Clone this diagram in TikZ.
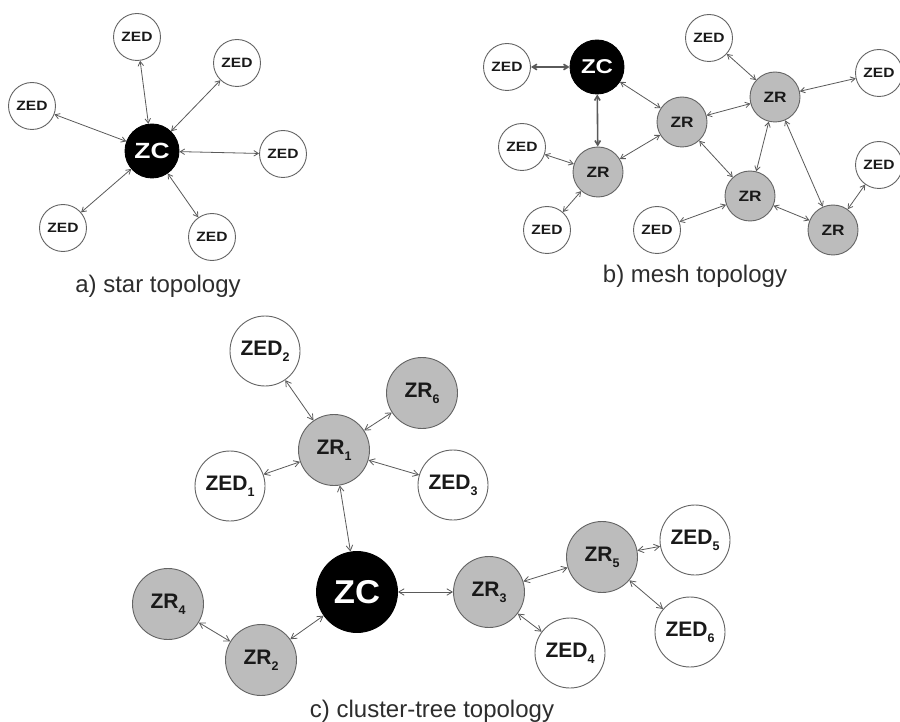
\documentclass[tikz,border=0pt]{standalone}
\usepackage{fontspec}
\usepackage{graphicx}
\setmainfont{Liberation Sans}
\usetikzlibrary{arrows.meta}

\definecolor{edgecol}{RGB}{90,90,90}
\definecolor{rimcol}{RGB}{100,100,100}
\definecolor{zrfill}{RGB}{188,188,188}
\definecolor{txtcol}{RGB}{25,25,25}
\definecolor{capcol}{RGB}{45,45,45}

% horizontally widened label text
\newcommand{\wtxt}[2]{\scalebox{#1}[1]{#2}}
% lowered index digit
\newcommand{\sbs}[1]{\raisebox{-0.3em}{\fontsize{12.5}{12.5}\selectfont #1}}

\tikzset{
  every node/.style={inner sep=0pt},
  nd/.style={circle, draw=rimcol, line width=0.9pt, text=txtcol},
  sed/.style={nd, fill=white, minimum size=47pt, font=\fontsize{13.5}{13.5}\selectfont\bfseries},
  szr/.style={nd, fill=zrfill, minimum size=50pt, font=\fontsize{15}{15}\selectfont\bfseries},
  szc/.style={nd, fill=black, draw=black, text=white, minimum size=54pt},
  bed/.style={nd, fill=white, minimum size=70pt, font=\fontsize{21}{21}\selectfont\bfseries},
  bzr/.style={nd, fill=zrfill, minimum size=71pt, font=\fontsize{21}{21}\selectfont\bfseries},
  bzc/.style={nd, fill=black, draw=black, text=white, minimum size=81pt, font=\fontsize{33}{33}\selectfont\bfseries},
  link/.style={<->, draw=edgecol, line width=0.8pt, >={Straight Barb[length=4.5pt,width=5.5pt]}},
  thicklink/.style={link, line width=1.6pt},
  blink/.style={link, >={Straight Barb[length=5.5pt,width=6.5pt]}},
  caption/.style={anchor=base, text=capcol, font=\fontsize{24}{24}\selectfont}
}

\begin{document}
\begin{tikzpicture}[x=1pt,y=-1pt]
\useasboundingbox[fill=white] (0,0) rectangle (900,722);

% ---------- a) star topology ----------
\node[szc, font=\fontsize{22}{22}\selectfont\bfseries] (sc) at (152,151) {\wtxt{1.2}{ZC}};
\node[sed] (s1) at (137,37)  {\wtxt{1.15}{ZED}};
\node[sed] (s2) at (237,63)  {\wtxt{1.15}{ZED}};
\node[sed] (s3) at (32,106)  {\wtxt{1.15}{ZED}};
\node[sed] (s4) at (283,154) {\wtxt{1.15}{ZED}};
\node[sed] (s5) at (63,228)  {\wtxt{1.15}{ZED}};
\node[sed] (s6) at (212,237) {\wtxt{1.15}{ZED}};
\foreach \n in {s1,s2,s3,s4,s5,s6} \draw[link] (sc) -- (\n);
\node[caption] (capa) at (158,293) {a) star topology};

% ---------- b) mesh topology ----------
\node[szc, font=\fontsize{20}{20}\selectfont\bfseries] (mc) at (597,67) {\wtxt{1.2}{ZC}};
\node[sed] (me1) at (507,67)  {\wtxt{1.15}{ZED}};
\node[sed] (me2) at (709,38)  {\wtxt{1.15}{ZED}};
\node[sed] (me3) at (879,73)  {\wtxt{1.15}{ZED}};
\node[sed] (me4) at (522,147) {\wtxt{1.15}{ZED}};
\node[sed] (me5) at (879,165) {\wtxt{1.15}{ZED}};
\node[sed] (me6) at (547,230) {\wtxt{1.15}{ZED}};
\node[sed] (me7) at (657,230) {\wtxt{1.15}{ZED}};
\node[szr] (mr1) at (682,122) {\wtxt{1.15}{ZR}};
\node[szr] (mr2) at (775,97)  {\wtxt{1.15}{ZR}};
\node[szr] (mr3) at (598,172) {\wtxt{1.15}{ZR}};
\node[szr] (mr4) at (750,196) {\wtxt{1.15}{ZR}};
\node[szr] (mr5) at (833,230) {\wtxt{1.15}{ZR}};
\draw[thicklink] (mc) -- (me1);
\draw[thicklink] (mc) -- (mr3);
\draw[link] (mc) -- (mr1);
\draw[link] (mr3) -- (me4);
\draw[link] (mr3) -- (me6);
\draw[link] (mr3) -- (mr1);
\draw[link] (mr1) -- (mr2);
\draw[link] (mr1) -- (mr4);
\draw[link] (mr2) -- (me2);
\draw[link] (mr2) -- (me3);
\draw[link] (mr2) -- (mr4);
\draw[link] (mr2) -- (mr5);
\draw[link] (mr4) -- (me7);
\draw[link] (mr4) -- (mr5);
\draw[link] (mr5) -- (me5);
\node[caption] (capb) at (695,283) {b) mesh topology};

% ---------- c) cluster-tree topology ----------
\node[bzc] (cc) at (357,592) {\wtxt{1.05}{ZC}};
\node[bzr] (cr1) at (334,450) {ZR\sbs{1}};
\node[bzr] (cr2) at (261,660) {ZR\sbs{2}};
\node[bzr] (cr3) at (489,592) {ZR\sbs{3}};
\node[bzr] (cr4) at (168,604) {ZR\sbs{4}};
\node[bzr] (cr5) at (602,557) {ZR\sbs{5}};
\node[bzr] (cr6) at (422,393) {ZR\sbs{6}};
\node[bed] (ce1) at (230,486) {ZED\sbs{1}};
\node[bed] (ce2) at (265,351) {ZED\sbs{2}};
\node[bed] (ce3) at (453,485) {ZED\sbs{3}};
\node[bed] (ce4) at (570,653) {ZED\sbs{4}};
\node[bed] (ce5) at (695,540) {ZED\sbs{5}};
\node[bed] (ce6) at (690,632) {ZED\sbs{6}};
\draw[blink] (cr1) -- (ce2);
\draw[blink] (cr1) -- (cr6);
\draw[blink] (cr1) -- (ce1);
\draw[blink] (cr1) -- (ce3);
\draw[blink] (cr1) -- (cc);
\draw[blink] (cc) -- (cr2);
\draw[blink] (cr2) -- (cr4);
\draw[blink] (cc) -- (cr3);
\draw[blink] (cr3) -- (cr5);
\draw[blink] (cr3) -- (ce4);
\draw[blink] (cr5) -- (ce5);
\draw[blink] (cr5) -- (ce6);
\node[caption] (capc) at (432,717) {c) cluster-tree topology};
\end{tikzpicture}
\end{document}
